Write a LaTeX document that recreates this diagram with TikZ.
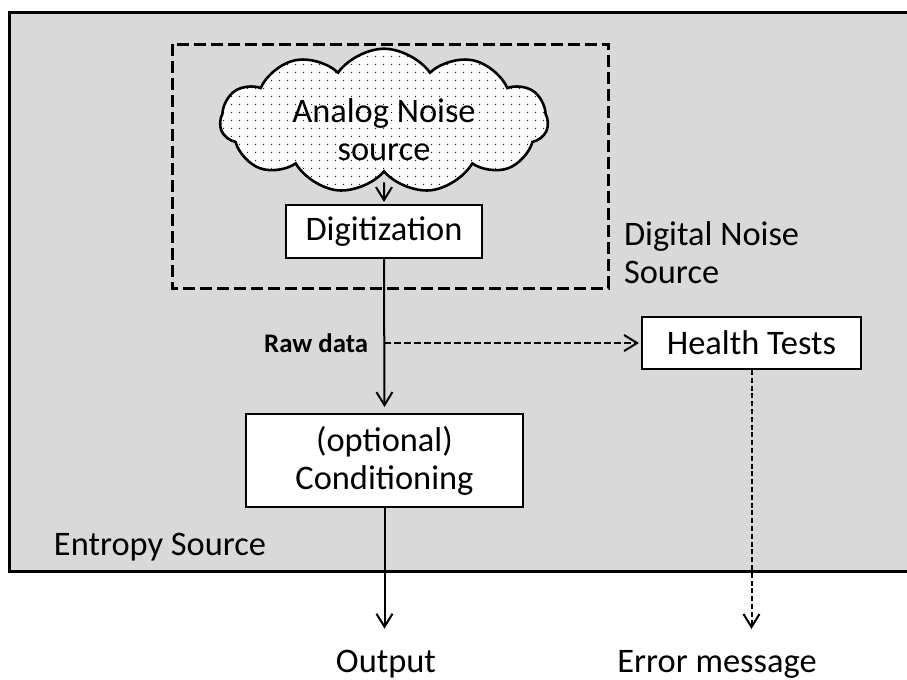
\documentclass[tikz,border=0pt]{standalone}
\usepackage{fontspec}
\setmainfont{Carlito}
\usetikzlibrary{arrows.meta,positioning,shapes.symbols,patterns.meta}

\definecolor{srcgray}{HTML}{D9D9D9}

\tikzset{
  blk/.style={draw, fill=white, line width=1pt, align=center, inner sep=0pt},
  lbl/.style={inner sep=0pt, align=left},
}

\begin{document}
\begin{tikzpicture}[x=0.5pt,y=-0.5pt,>={Straight Barb[length=6.5pt,width=8pt]},
                    line width=1pt,font=\fontsize{17.2}{19}\selectfont]
\useasboundingbox (0,0) rectangle (907,680);

% entropy source and digital noise source frames
\draw[line width=1.5pt, fill=srcgray] (9.5,12) rectangle (940,571);
\draw[line width=1.5pt, dash pattern=on 6pt off 2.5pt] (172,44) rectangle (608,288);

\node[blk, minimum width=98pt, minimum height=26.5pt] (dig) at (384,231.5) {Digitization};
\node[cloud, cloud puffs=11, cloud puff arc=110, cloud ignores aspect, draw, line width=1.3pt,
      align=center, text height=39.25pt, text depth=-19.25pt,
      preaction={fill=white}, pattern={Dots[distance=4pt,radius=0.35pt]}, inner sep=0pt,
      minimum width=164pt, minimum height=71pt] (ans) at (384,121) {Analog Noise\\source};
\node[blk, minimum width=138.5pt, minimum height=46.5pt] (cond) at (384.5,460.5) {(optional)\\Conditioning};
\node[blk, minimum width=109.5pt, minimum height=26pt] (health) at (751.5,343) {Health Tests};

\coordinate (tap) at (dig.south |- health.west);
\node[lbl, font=\fontsize{13.4}{15}\selectfont\bfseries] (raw) [left=7.5pt of tap] {Raw data};

\node[lbl, anchor=base west] (esl) at (53,555) {Entropy Source};
\node[lbl, anchor=west] (dnsl) at (623,253) {Digital Noise\\Source};
\node[lbl, anchor=base] (outl) at (386,672) {Output};
\node[lbl, anchor=base] (errl) at (717,672) {Error message};

\draw[->, shorten <=4.5pt, shorten >=1pt] (ans.south) -- (dig.north);
\draw[->, shorten >=3pt] (dig.south) -- (cond.north);
\draw[->, dash pattern=on 3.5pt off 1.5pt, shorten >=1pt] (tap) -- (health.west);
\draw[->, shorten >=10pt] (cond.south) -- (cond.south |- outl.north);
\draw[->, dash pattern=on 2.5pt off 1.4pt, shorten >=10pt] (health.south) -- (health.south |- errl.north);

\end{tikzpicture}
\end{document}
